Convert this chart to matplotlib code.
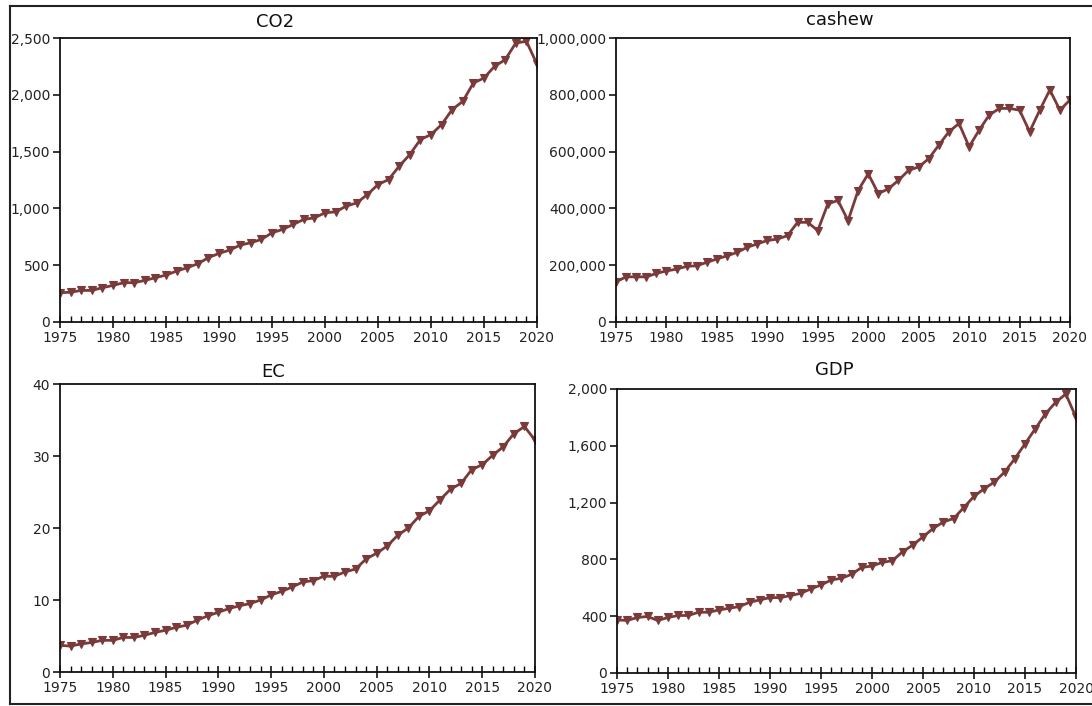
import matplotlib
matplotlib.use("Agg")
import matplotlib.pyplot as plt
from matplotlib.ticker import MultipleLocator, FuncFormatter
from matplotlib.lines import Line2D

years = list(range(1975, 2021))

co2 = [258, 262, 278, 278, 302, 322, 346, 346, 366, 390,
       413, 448, 478, 513, 566, 604, 633, 677, 698, 727,
       785, 815, 859, 903, 917, 961, 970, 1020, 1049, 1122,
       1210, 1254, 1372, 1474, 1606, 1650, 1738, 1870, 1943, 2104,
       2148, 2251, 2309, 2456, 2471, 2270]

cashew = [141500, 159000, 159000, 159000, 171000, 180000, 186000, 196000, 198000, 210000,
          222000, 233000, 245000, 263000, 275000, 287000, 292000, 304000, 351000, 351000,
          322000, 416000, 428000, 357000, 463000, 522000, 452000, 469000, 499000, 534000,
          546000, 575000, 623000, 670000, 699000, 617000, 676000, 729000, 752000, 752000,
          746000, 670000, 746000, 817000, 746000, 782000]

ec = [3.7, 3.6, 3.9, 4.1, 4.4, 4.4, 4.8, 4.8, 5.1, 5.5,
      5.8, 6.2, 6.5, 7.2, 7.8, 8.3, 8.8, 9.2, 9.5, 10.0,
      10.7, 11.2, 11.8, 12.5, 12.7, 13.3, 13.3, 13.9, 14.3, 15.7,
      16.5, 17.5, 19.0, 20.0, 21.6, 22.4, 23.9, 25.4, 26.2, 28.1,
      28.8, 30.1, 31.3, 33.1, 34.1, 32.2]

gdp = [374, 370, 391, 398, 370, 391, 405, 405, 428, 428,
       444, 456, 468, 498, 515, 531, 531, 545, 561, 592,
       620, 655, 667, 695, 744, 753, 779, 791, 854, 901,
       959, 1018, 1064, 1088, 1165, 1244, 1298, 1345, 1415, 1509,
       1614, 1719, 1825, 1906, 1965, 1800]

titles = ["CO2", "cashew", "EC", "GDP"]
y_limits = [2500, 1000000, 40, 2000]
y_steps = [500, 200000, 10, 400]

LINE_COLOR = "#7a3a3a"
W, H = 1092, 706

plt.rcParams["font.family"] = ["DejaVu Sans"]

fig = plt.figure(figsize=(W / 100, H / 100), dpi=100)
fig.patch.set_facecolor("white")

# panel boxes in pixels: left, right, top, bottom
boxes = [(60, 537, 38, 322), (616, 1070, 38, 322),
         (60, 535, 384, 672), (617, 1076, 389, 673)]
title_pos = [(275, 22), (840, 20), (273, 372), (834, 370)]
series = [co2, cashew, ec, gdp]

comma = FuncFormatter(lambda v, p: f"{int(round(v)):,}")

for (l, r, t, b), vals, ttl, top, step, (tx, ty) in zip(
        boxes, series, titles, y_limits, y_steps, title_pos):
    ax = fig.add_axes([l / W, (H - b) / H, (r - l) / W, (b - t) / H])
    ax.plot(years, vals, color=LINE_COLOR, lw=2.0, marker="v",
            markersize=6, markerfacecolor=LINE_COLOR,
            markeredgecolor=LINE_COLOR, markeredgewidth=0.8)
    ax.set_xlim(1975, 2020)
    ax.set_ylim(0, top)
    ax.xaxis.set_major_locator(MultipleLocator(5))
    ax.xaxis.set_minor_locator(MultipleLocator(1))
    ax.yaxis.set_major_locator(MultipleLocator(step))
    ax.yaxis.set_major_formatter(comma)
    ax.tick_params(axis="x", which="major", direction="inout", length=9,
                   width=1.1, labelsize=10, pad=2, top=False,
                   labelcolor="#222222")
    ax.tick_params(axis="x", which="minor", direction="in", length=4,
                   width=1.0, top=False)
    ax.tick_params(axis="y", which="major", direction="out", length=5,
                   width=1.1, labelsize=10, pad=2, right=False,
                   labelcolor="#222222")
    for s in ax.spines.values():
        s.set_linewidth(1.3)
        s.set_color("#111111")
    fig.text(tx / W, 1 - ty / H, ttl, ha="center", va="center",
             fontsize=13, color="#111111")

# outer frame
frame_kw = dict(transform=fig.transFigure, color="#222222", lw=1.5)
fig.add_artist(Line2D([9.5 / W, 9.5 / W], [1 - 704 / H, 1 - 6 / H], **frame_kw))
fig.add_artist(Line2D([9.5 / W, 1.0], [1 - 6 / H, 1 - 6 / H], **frame_kw))
fig.add_artist(Line2D([9.5 / W, 1.0], [1 - 704 / H, 1 - 704 / H], **frame_kw))

fig.savefig("out.png", dpi=100)
